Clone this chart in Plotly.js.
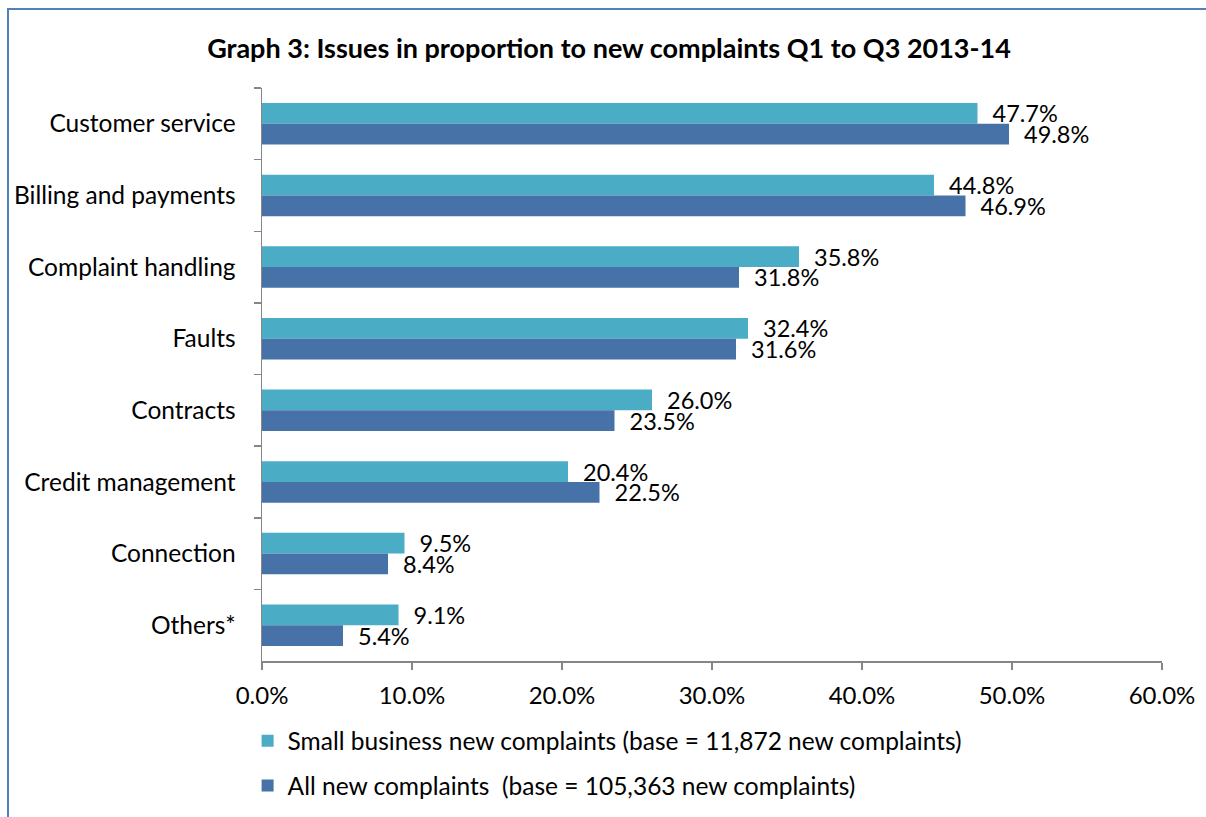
<!DOCTYPE html>
<html><head><meta charset="utf-8">
<script src="https://cdn.plot.ly/plotly-3.0.1.min.js"></script>
<style>html,body{margin:0;padding:0;background:#fff;}#chart{width:1206px;height:817px;}</style>
</head><body><div id="chart"></div>
<script>
const categories = ["Customer service","Billing and payments","Complaint handling","Faults","Contracts","Credit management","Connection","Others*"];
const smallBusiness = [47.7,44.8,35.8,32.4,26.0,20.4,9.5,9.1];
const allComplaints = [49.8,46.9,31.8,31.6,23.5,22.5,8.4,5.4];
const seriesNames = ["Small business new complaints (base = 11,872 new complaints)","All new complaints  (base = 105,363 new complaints)"];
const xTicks = [0,10,20,30,40,50,60];

const F = "Lato, 'Open Sans', sans-serif";
const mk = (vals, name, color, grp) => ({
  type:'bar', orientation:'h', y:categories, x:vals, name:name,
  marker:{color:color}, legendgroup:grp,
  texttemplate:'\u00a0\u00a0%{x:.1f}%', textposition:'outside', cliponaxis:false,
  constraintext:'none', textfont:{family:F,size:23.5,color:'#000'}, hoverinfo:'skip'
});
const data = [
  mk(smallBusiness, seriesNames[0], '#4BACC6','a'),
  mk(allComplaints, seriesNames[1], '#4672A8','b')
];
const layout = {
  width:1206, height:817,
  margin:{l:262,r:44,t:88,b:156, autoexpand:false},
  paper_bgcolor:'#fff', plot_bgcolor:'#fff',
  font:{family:F,size:24,color:'#000'},
  title:{text:'<b>Graph 3: Issues in proportion to new complaints Q1 to Q3 2013-14</b>', x:0.505, xanchor:'center', y:0.941, yanchor:'middle', font:{family:F,size:27,color:'#000'}},
  barmode:'group', bargap:0.42, bargroupgap:0,
  xaxis:{range:[0,60], tickvals:xTicks, ticktext:xTicks.map(v=>v.toFixed(1)+'%'), automargin:false,
    showgrid:false, zeroline:false, showline:true, linecolor:'#868686', linewidth:1.5,
    ticks:'outside', ticklen:7, tickcolor:'#868686', tickwidth:1.5, tickfont:{family:F,size:24}, ticklabelstandoff:6},
  yaxis:{autorange:'reversed', automargin:false, showgrid:false, zeroline:false, showline:true, linecolor:'#868686', linewidth:1.5,
    ticks:'outside', tickson:'boundaries', ticklen:7, tickcolor:'#868686', tickwidth:1.5, tickfont:{family:F,size:24.5}, ticklabelstandoff:20},
  showlegend:true,
  legend:{orientation:'v', x:-0.016, xanchor:'left', y:-0.1, yanchor:'top', traceorder:'grouped', tracegroupgap:10,
    font:{family:F,size:24.5}, itemwidth:30, bgcolor:'rgba(0,0,0,0)'},
  shapes:[{type:'rect', xref:'paper', yref:'paper', x0:(8-262)/900, x1:1.3, y0:-0.5, y1:(661-9)/573,
    line:{color:'#4F81BD', width:2}, fillcolor:'rgba(0,0,0,0)', layer:'below'}]
};
Plotly.newPlot('chart', data, layout, {displayModeBar:false, staticPlot:true});
</script></body></html>
